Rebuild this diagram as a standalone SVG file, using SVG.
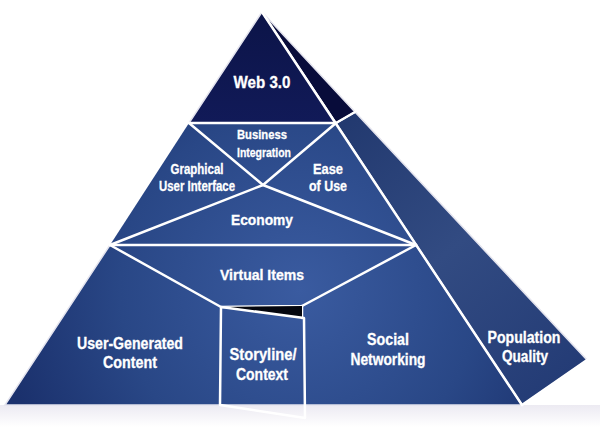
<svg xmlns="http://www.w3.org/2000/svg" width="600" height="427" viewBox="0 0 600 427">
  <defs>
    <radialGradient id="frontGrad" cx="300" cy="290" r="300" gradientUnits="userSpaceOnUse">
      <stop offset="0" stop-color="#3a5ba0"/>
      <stop offset="0.6" stop-color="#294786"/>
      <stop offset="1" stop-color="#1b316d"/>
    </radialGradient>
    <linearGradient id="rightGrad" x1="340" y1="120" x2="560" y2="380" gradientUnits="userSpaceOnUse">
      <stop offset="0" stop-color="#22396f"/>
      <stop offset="0.5" stop-color="#324b82"/>
      <stop offset="1" stop-color="#243c76"/>
    </linearGradient>
    <linearGradient id="doorGrad" x1="220" y1="307" x2="305" y2="418" gradientUnits="userSpaceOnUse">
      <stop offset="0" stop-color="#162760"/>
      <stop offset="0.5" stop-color="#223a78"/>
      <stop offset="1" stop-color="#172a64"/>
    </linearGradient>
    <linearGradient id="webGrad" x1="262" y1="12" x2="262" y2="123" gradientUnits="userSpaceOnUse">
      <stop offset="0" stop-color="#0c1448"/>
      <stop offset="1" stop-color="#111a58"/>
    </linearGradient>
    <linearGradient id="reflGrad" x1="0" y1="405" x2="0" y2="427" gradientUnits="userSpaceOnUse">
      <stop offset="0" stop-color="#eceaf2"/>
      <stop offset="1" stop-color="#ffffff"/>
    </linearGradient>
    <style>
      .lbl { font-family: "Liberation Sans", Arial, sans-serif; font-weight: bold; fill: #ffffff; stroke: #ffffff; stroke-width: 0.3; text-anchor: middle; }
      .ln { stroke: #ffffff; stroke-width: 2.5; fill: none; stroke-linejoin: round; stroke-linecap: round; }
      .edge { stroke: #e4e4ee; stroke-width: 1.5; }
    </style>
  </defs>

  <rect x="0" y="0" width="600" height="427" fill="#ffffff"/>
  <rect x="0" y="405" width="600" height="22" fill="url(#reflGrad)"/>

  <!-- faces -->
  <g id="right-face">
    <polygon points="336,123 355,112 587,360 522,405" fill="url(#rightGrad)" class="edge"/>
    <polygon points="262,12 336,123 355,112" fill="#080c3a" class="edge"/>
  </g>
  <g id="front-face">
    <polygon points="189,123 336,123 416,245 110,245" fill="url(#frontGrad)"/>
    <polygon points="110,245 416,245 522,405 5,405" fill="url(#frontGrad)" class="edge"/>
  </g>

  <g id="web30">
    <polygon points="262,12 189,123 336,123" fill="url(#webGrad)" class="edge"/>
    <text class="lbl" x="262" y="88" font-size="17" textLength="57" lengthAdjust="spacingAndGlyphs">Web 3.0</text>
  </g>

  <g id="business-integration">
    <text class="lbl" x="262" y="139" font-size="13" textLength="50" lengthAdjust="spacingAndGlyphs">Business</text>
    <text class="lbl" x="264" y="157" font-size="13" textLength="54" lengthAdjust="spacingAndGlyphs">Integration</text>
  </g>
  <g id="gui">
    <text class="lbl" x="197" y="174" font-size="14" textLength="53" lengthAdjust="spacingAndGlyphs">Graphical</text>
    <text class="lbl" x="197" y="191" font-size="14" textLength="76" lengthAdjust="spacingAndGlyphs">User Interface</text>
  </g>
  <g id="ease-of-use">
    <text class="lbl" x="328" y="174" font-size="14" textLength="30" lengthAdjust="spacingAndGlyphs">Ease</text>
    <text class="lbl" x="328" y="191" font-size="14" textLength="38" lengthAdjust="spacingAndGlyphs">of Use</text>
  </g>
  <g id="economy">
    <text class="lbl" x="262" y="225" font-size="15" textLength="62" lengthAdjust="spacingAndGlyphs">Economy</text>
  </g>
  <g id="virtual-items">
    <text class="lbl" x="262" y="280" font-size="15" textLength="84" lengthAdjust="spacingAndGlyphs">Virtual Items</text>
  </g>
  <g id="user-generated-content">
    <text class="lbl" x="130" y="349" font-size="16" textLength="106" lengthAdjust="spacingAndGlyphs">User-Generated</text>
    <text class="lbl" x="130" y="368" font-size="16" textLength="54" lengthAdjust="spacingAndGlyphs">Content</text>
  </g>
  <g id="social-networking">
    <text class="lbl" x="388" y="345" font-size="16" textLength="42" lengthAdjust="spacingAndGlyphs">Social</text>
    <text class="lbl" x="388" y="365" font-size="16" textLength="75" lengthAdjust="spacingAndGlyphs">Networking</text>
  </g>
  <g id="population-quality">
    <text class="lbl" x="524" y="343" font-size="16" textLength="73" lengthAdjust="spacingAndGlyphs">Population</text>
    <text class="lbl" x="525" y="362" font-size="16" textLength="46" lengthAdjust="spacingAndGlyphs">Quality</text>
  </g>

  <!-- connectors / dividing lines -->
  <g id="connectors">
    <line class="ln" x1="189" y1="123" x2="336" y2="123"/>
    <polyline class="ln" points="189,123 263,185 416,245"/>
    <polyline class="ln" points="336,123 263,185 110,245"/>
    <line class="ln" x1="110" y1="245" x2="416" y2="245"/>
    <polyline class="ln" points="110,245 221,307 302,306 416,245"/>
    <line class="ln" x1="262" y1="12" x2="522" y2="405"/>
    <line class="ln" x1="336" y1="123" x2="355" y2="112"/>
    <line class="ln" x1="522" y1="405" x2="587" y2="360"/>
    <line class="ln" x1="302" y1="306" x2="302" y2="318"/>
  </g>

  <g id="storyline-context">
    <polygon points="221,307 302,306 302,317" fill="#05070f"/>
    <polygon points="221,307 304,318 305,418 220,405" fill="url(#doorGrad)" class="ln"/>
    <text class="lbl" x="263" y="360" font-size="16" textLength="67" lengthAdjust="spacingAndGlyphs">Storyline/</text>
    <text class="lbl" x="262" y="380" font-size="16" textLength="52" lengthAdjust="spacingAndGlyphs">Context</text>
  </g>
</svg>
